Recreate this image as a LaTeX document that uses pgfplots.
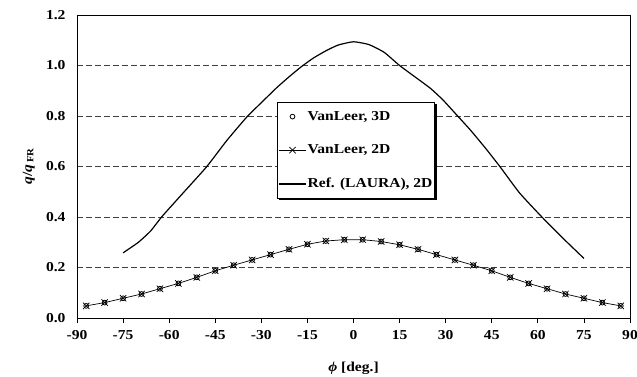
\documentclass[border=0pt]{standalone}
\usepackage{pgfplots}
\pgfplotsset{compat=1.18}
\usepackage{fontspec}
\setmainfont{Liberation Serif}[FakeStretch=1.14]
\usetikzlibrary{shadows}
\makeatletter
\tikzset{nopreaction/.code={\let\tikz@preactions\pgfutil@empty\let\tikz@postactions\pgfutil@empty}}
\makeatother

\pgfplotstableread{
x y
-87 0.048
-81 0.061
-75 0.078
-69 0.095
-63 0.116
-57 0.137
-51 0.161
-45 0.187
-39 0.209
-33 0.230
-27 0.251
-21 0.272
-15 0.292
-9 0.305
-3 0.310
3 0.310
9 0.303
15 0.290
21 0.272
27 0.251
33 0.230
39 0.209
45 0.187
51 0.161
57 0.137
63 0.116
69 0.095
75 0.078
81 0.061
87 0.048
}\vanleer

\pgfplotstableread{
x y
-75 0.258
-70 0.300
-66 0.345
-62.4 0.401
-55.4 0.496
-47.8 0.599
-41.3 0.702
-34.8 0.795
-29.4 0.860
-25 0.912
-21 0.955
-17 0.995
-13 1.030
-9 1.058
-5 1.081
0 1.094
5 1.083
10 1.052
15 1.000
20 0.955
25 0.910
29 0.865
33 0.812
38 0.745
43 0.672
47.7 0.599
54 0.496
61 0.404
68 0.318
75 0.236
}\laura

\begin{document}
\begin{tikzpicture}
\begin{axis}[
  name=ax,
  scale only axis, width=553bp, height=303bp,
  xmin=-90, xmax=90, ymin=0, ymax=1.2,
  xtick={-90,-75,-60,-45,-30,-15,0,15,30,45,60,75,90},
  ytick={0,0.2,0.4,0.6,0.8,1.0,1.2},
  axis line style={line width=0.8bp},
  tick align=outside,
  xtick pos=bottom, ytick pos=left,
  xtick style={black, line width=0.8bp},
  major tick length=5bp,
  ytick style={draw=none},
  ymajorgrids,
  major grid style={black!75, dash pattern=on 6bp off 3bp, line width=0.8bp},
  /pgf/number format/assume math mode=true,
  tick label style={font=\bfseries\fontsize{13.7}{15}\selectfont},
  yticklabel style={xshift=-3bp, /pgf/number format/.cd, fixed, fixed zerofill, precision=1},
  xticklabel style={yshift=-4bp},
  xlabel={\textbf{\textit{ϕ} [deg.]}},
  xlabel style={at={(axis description cs:0.5,-0.145)}, anchor=north, inner sep=0pt, font=\fontsize{13.7}{15}\selectfont},
  ylabel={\textbf{\textit{q}/\textit{q}\,\raisebox{-0.25ex}{\fontsize{9.5}{10}\selectfont FR}}},
  ylabel style={at={(axis description cs:-0.087,0.5)}, anchor=center, inner sep=0pt, font=\fontsize{13.7}{15}\selectfont},
  legend style={at={(axis description cs:0.3617,0.713)}, anchor=north west,
    draw=black, line width=0.8bp, fill=white,
    font=\bfseries\fontsize{13.7}{15}\selectfont,
    row sep=19bp, inner xsep=1bp, inner ysep=7bp,
    nodes={inner xsep=1bp},
    general shadow={fill=black, shadow xshift=2bp, shadow yshift=-2bp}},
  legend cell align=left,
  legend image code/.code={\draw[nopreaction,mark repeat=2,mark phase=2,#1] plot coordinates {(0bp,0bp) (13.5bp,0bp) (27bp,0bp)};},
]
\addplot[only marks, mark=o, mark size=2.4bp, mark options={line width=0.8bp, black}] table[x=x,y=y] {\vanleer};
\addlegendentry{VanLeer, 3D}
\addplot[black, line width=0.7bp, mark=x, mark size=4.5bp, mark options={line width=0.7bp}] table[x=x,y=y] {\vanleer};
\addlegendentry{VanLeer, 2D}
\addplot[black, line width=1.2bp, smooth, tension=0.3] table[x=x,y=y] {\laura};
\addlegendentry{Ref. (LAURA), 2D}
\end{axis}
\pgfresetboundingbox
\path ([xshift=-77bp,yshift=-59bp]ax.south west) rectangle ([xshift=7bp,yshift=15bp]ax.north east);
\end{tikzpicture}
\end{document}
